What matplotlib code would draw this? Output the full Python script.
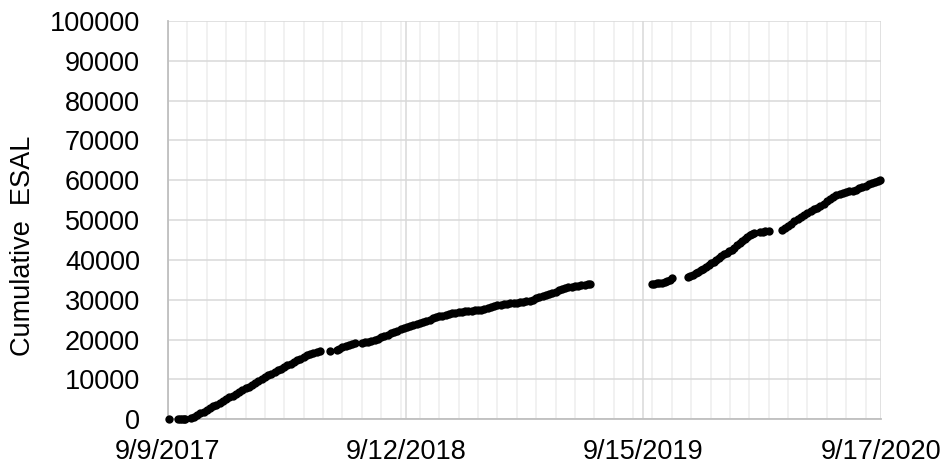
import datetime as dt
import matplotlib
matplotlib.use("Agg")
import matplotlib.pyplot as plt
import matplotlib.dates as mdates
from matplotlib.ticker import FixedLocator

plt.rcParams['font.family'] = ['Liberation Sans', 'DejaVu Sans']

start_date = dt.date(2017, 9, 9)
end_date = dt.date(2020, 9, 17)

# Days since 9/9/2017 and cumulative ESAL
day_offsets = [
    1, 15, 18, 21, 24, 27,
    36, 40, 45, 50, 55, 60, 65, 70, 75, 80, 85, 90, 95, 100, 105, 110, 115, 120,
    125, 130, 135, 140, 145, 150, 155, 160, 165, 170, 175, 180, 185, 190, 195,
    200, 205, 210, 215, 220, 225, 230, 235,
    251,
    261, 265, 270, 275, 280, 285, 290,
    301, 305, 310, 315, 320, 325, 330, 335, 340, 345, 350, 355, 360, 365, 370,
    375, 380, 385, 390, 395, 400, 405, 410, 415, 420, 425, 430, 435, 440, 445,
    450, 455, 460, 465, 470, 475, 480, 485, 490, 495, 500, 505, 510, 515, 520,
    525, 530, 535, 540, 545, 550, 555, 560, 565, 570, 575, 580, 585, 590, 595,
    600, 605, 610, 615, 620, 625, 630, 635, 640, 645, 650, 654,
    749, 753, 757, 761, 765, 769, 773, 777, 781,
    805, 809, 813, 817, 821, 825, 829, 833, 837, 841, 845, 849, 853, 857, 861,
    865, 869, 873, 877, 881, 885, 889, 893, 897, 901, 905, 908,
    917, 921, 925, 930,
    951, 955, 960, 965, 970, 975, 980, 985, 990, 995, 1000, 1005, 1010, 1015,
    1020, 1025, 1030, 1035, 1040, 1045, 1050, 1055, 1060, 1065, 1070, 1075,
    1080, 1085, 1090, 1095, 1100, 1103,
]
esal_values = [
    0, 50, 100, 120, 150, 200,
    300, 650, 1100, 1500, 1950, 2400, 2800, 3250, 3700, 4150, 4600, 5050, 5500,
    5950, 6400, 6850, 7300, 7750, 8200, 8700, 9150, 9650, 10100, 10550, 11000,
    11450, 11900, 12300, 12750, 13150, 13550, 13950, 14400, 14800, 15200, 15650,
    16050, 16400, 16700, 16900, 17050,
    17200,
    17500, 17750, 18050, 18400, 18700, 18950, 19150,
    19150, 19300, 19500, 19750, 20000, 20250, 20550, 20850, 21200, 21550, 21850,
    22200, 22550, 22900, 23250, 23500, 23750, 24000, 24250, 24550, 24800, 25050,
    25350, 25650, 25850, 26050, 26300, 26450, 26600, 26750, 26900, 27000, 27100,
    27150, 27250, 27350, 27450, 27550, 27800, 28050, 28300, 28500, 28700, 28800,
    28900, 29000, 29100, 29200, 29300, 29400, 29500, 29600, 29800, 30050, 30350,
    30650, 30900, 31200, 31450, 31750, 32050, 32400, 32750, 33000, 33200, 33300,
    33450, 33550, 33650, 33800, 33900, 34050,
    34000, 34050, 34100, 34150, 34250, 34450, 34700, 35050, 35400,
    35700, 36000, 36350, 36700, 37050, 37400, 37800, 38250, 38700, 39150, 39600,
    40050, 40500, 41000, 41500, 41850, 42200, 42500, 43000, 43700, 44300, 44800,
    45300, 45800, 46200, 46600, 46800,
    47000, 47100, 47200, 47250,
    47600, 48000, 48500, 49100, 49700, 50300, 50900, 51400, 51900, 52300, 52700,
    53100, 53500, 54100, 54700, 55300, 55800, 56300, 56600, 56850, 57050, 57200,
    57350, 57650, 57950, 58300, 58600, 59000, 59300, 59650, 59950, 60200,
]

x_tick_labels = ["9/9/2017", "9/12/2018", "9/15/2019", "9/17/2020"]
y_ticks = [0, 10000, 20000, 30000, 40000, 50000, 60000, 70000, 80000, 90000, 100000]
y_label = "Cumulative  ESAL"

major_days = 368
minor_days = 30

dates = [start_date + dt.timedelta(days=d) for d in day_offsets]

fig = plt.figure(figsize=(9.5, 4.69), dpi=100)
ax = fig.add_axes([168 / 950, 1 - 419.3 / 469, (881 - 168) / 950, (419.3 - 21) / 469])

x0 = mdates.date2num(start_date)
x1 = mdates.date2num(end_date)
ax.set_xlim(x0, x1)
ax.set_ylim(0, 100000)

major_locs = [x0 + i * major_days for i in range(len(x_tick_labels))]
minor_locs = [x0 + i * minor_days for i in range(1, int((x1 - x0) // minor_days) + 1)]
ax.xaxis.set_major_locator(FixedLocator(major_locs))
ax.xaxis.set_minor_locator(FixedLocator(minor_locs))
ax.set_xticklabels(x_tick_labels)
ax.set_yticks(y_ticks)
ax.set_yticklabels([str(v) for v in y_ticks])

ax.grid(True, which='major', axis='both', color='#d9d9d9', linewidth=1.1, zorder=0)
ax.grid(True, which='minor', axis='x', color='#ededed', linewidth=1.1, zorder=0)
ax.set_axisbelow(True)

for side in ['top', 'right']:
    ax.spines[side].set_visible(False)
for side in ['left', 'bottom']:
    ax.spines[side].set_color('#bfbfbf')
    ax.spines[side].set_linewidth(1.3)

ax.tick_params(axis='both', which='both', length=0, labelsize=19.5, colors='#000000')
ax.tick_params(axis='y', pad=20)
ax.tick_params(axis='x', pad=14)

ax.plot(mdates.date2num(dates), esal_values, linestyle='none', marker='o',
        markersize=6.0, color='black', markeredgewidth=0, clip_on=False, zorder=3)

fig.text(23 / 950, 1 - 246 / 469, y_label, rotation=90, fontsize=19.5,
         ha='center', va='center')

fig.savefig("out.png", dpi=100)
